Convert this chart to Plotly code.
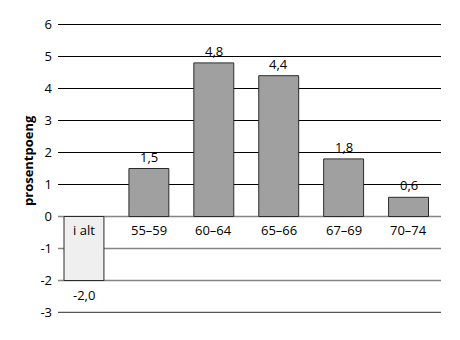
import plotly.graph_objects as go

# Change in percentage points by age group
categories = ["i alt", "55–59", "60–64", "65–66", "67–69", "70–74"]
values = [-2.0, 1.5, 4.8, 4.4, 1.8, 0.6]
y_ticks = [-3, -2, -1, 0, 1, 2, 3, 4, 5, 6]
y_title = "prosentpoeng"

FONT = "Open Sans"
W, H = 460, 340
ML, MR, MT, MB = 58, 19, 24, 27
x_pos = list(range(len(categories)))
fills = ["#efefef" if c == "i alt" else "#a0a0a0" for c in categories]
value_text = [f"{v:.1f}".replace(".", ",") for v in values]

# half-pixel padding so the 1px rules fall on whole pixel rows
pad = 0.5 / 32

fig = go.Figure()
fig.add_trace(go.Bar(
    x=x_pos, y=values, width=0.615,
    marker=dict(color=fills, line=dict(color="#2b2b2b", width=1)),
    hoverinfo="skip",
))

# horizontal reference lines, black above zero and grey at/below it
for t in y_ticks:
    if t > 0:
        col, w = "#000000", 1
    elif t == -3:
        col, w = "#555555", 1.3
    else:
        col, w = "#858585", 1.6
    fig.add_shape(type="line", xref="paper", yref="y", x0=0, x1=1, y0=t, y1=t,
                  line=dict(color=col, width=w), layer="below")

annotations = []
# value labels above positive bars, below negative ones
for x, v, txt in zip(x_pos, values, value_text):
    annotations.append(dict(
        x=x, y=v, xref="x", yref="y", text=txt, showarrow=False,
        yanchor="bottom" if v >= 0 else "top", yshift=1 if v >= 0 else -3,
        font=dict(family=FONT, size=13, color="#000"),
    ))
# category labels just under the zero line
for x, c in zip(x_pos, categories):
    annotations.append(dict(
        x=x, y=0, xref="x", yref="y", text=c, showarrow=False,
        yanchor="top", yshift=-2,
        font=dict(family=FONT, size=13, color="#000"),
    ))
# rotated axis title, positioned in pixels
annotations.append(dict(
    x=(28 - ML) / (W - ML - MR), y=(H - MB - 161) / (H - MT - MB),
    xref="paper", yref="paper", text=f"<b>{y_title}</b>",
    xanchor="center", yanchor="middle",
    showarrow=False, textangle=-90,
    font=dict(family=FONT, size=13, color="#000"),
))

fig.update_layout(
    width=W, height=H,
    margin=dict(l=ML, r=MR, t=MT, b=MB),
    paper_bgcolor="white", plot_bgcolor="white",
    showlegend=False,
    xaxis=dict(range=[-0.4, 5.5], showticklabels=False, showgrid=False,
               zeroline=False, showline=False, ticks=""),
    yaxis=dict(range=[-3 - pad, 6 + pad], tickvals=y_ticks,
               ticktext=[str(t) for t in y_ticks],
               showgrid=False, zeroline=False, showline=False, ticks="",
               ticklabelstandoff=5,
               tickfont=dict(family=FONT, size=13, color="#000")),
    annotations=annotations,
)

fig.write_html("out.html")
